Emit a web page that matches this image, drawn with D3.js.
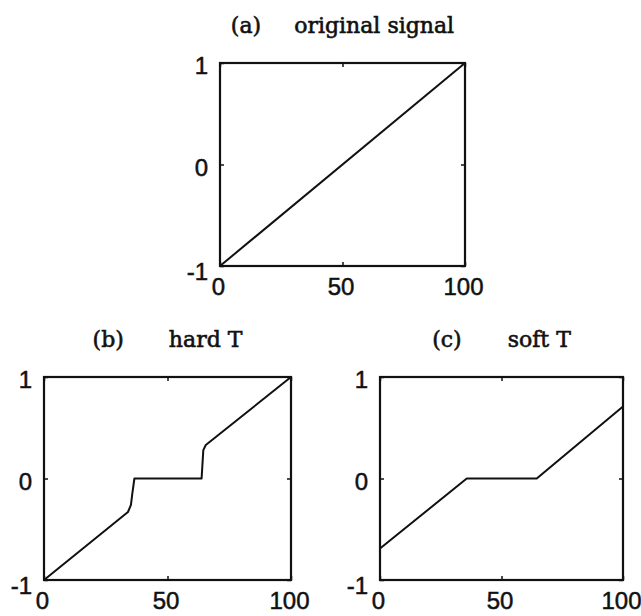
<!DOCTYPE html>
<html>
<head>
<meta charset="utf-8">
<script src="https://cdn.jsdelivr.net/npm/d3@7"></script>
<style>
  html, body { margin: 0; padding: 0; background: #fff; }
  svg { display: block; }
</style>
</head>
<body>
<svg id="chart" width="641" height="616"></svg>
<script>
// Thresholding demo: an input ramp and its hard / soft thresholded versions.
const panelTags = ["(a)", "(b)", "(c)"];
const panelNames = ["original signal", "hard T", "soft T"];
const xTicks = [0, 50, 100];
const yTicks = [-1, 0, 1];
const yTickLabels = ["-1", "0", "1"];

// Breakpoints of each piecewise-linear curve: sample index and amplitude.
const originalX = [0, 100];
const originalY = [-1, 1];
const hardX = [0, 34, 35.2, 35.7, 36.6, 63.8, 64.1, 64.5, 65.5, 100];
const hardY = [-1, -0.33, -0.26, -0.16, 0, 0, 0.12, 0.28, 0.33, 1];
const softX = [0, 35.7, 64.5, 100];
const softY = [-0.69, 0, 0, 0.71];

const curves = [
  { xs: originalX, ys: originalY },
  { xs: hardX, ys: hardY },
  { xs: softX, ys: softY }
];

// Plot boxes: one on top, two side by side below.
const boxes = [
  { left: 220, right: 465, top: 63, bottom: 266, gap: 33 },
  { left: 44, right: 291, top: 377, bottom: 580, gap: 45 },
  { left: 380, right: 623, top: 377, bottom: 580, gap: 46 }
];

const svg = d3.select("#chart");
const ink = "#111";
const tickFont = "'Liberation Sans', Arial, sans-serif";
const titleFont = "'DejaVu Serif', serif";

boxes.forEach((b, i) => {
  const x = d3.scaleLinear().domain([0, 100]).range([b.left, b.right]);
  const y = d3.scaleLinear().domain([-1, 1]).range([b.bottom, b.top]);
  const g = svg.append("g");

  // frame
  g.append("rect")
    .attr("x", b.left).attr("y", b.top)
    .attr("width", b.right - b.left).attr("height", b.bottom - b.top)
    .attr("fill", "none").attr("stroke", ink).attr("stroke-width", 2.2);

  const styleAxis = sel => {
    sel.select(".domain").remove();
    sel.selectAll(".tick line").attr("stroke", ink).attr("stroke-width", 1.5);
    sel.selectAll(".tick text")
      .attr("fill", ink)
      .attr("stroke", ink)
      .attr("stroke-width", 0.5)
      .style("font-family", tickFont)
      .style("font-size", "24px");
  };

  // labelled axes (bottom, left) with inward ticks
  g.append("g").attr("transform", `translate(0,${b.bottom})`)
    .call(d3.axisBottom(x).tickValues(xTicks).tickSizeInner(-4).tickSizeOuter(0).tickPadding(12))
    .call(styleAxis)
    .call(s => s.selectAll(".tick text").attr("dx", -2));

  g.append("g").attr("transform", `translate(${b.left},0)`)
    .call(d3.axisLeft(y).tickValues(yTicks).tickSizeInner(-4).tickSizeOuter(0).tickPadding(12)
      .tickFormat((d, k) => yTickLabels[k]))
    .call(styleAxis)
    .call(s => s.selectAll(".tick text").attr("dy", (d) => d === -1 ? "0.55em" : "0.45em"));

  // unlabelled mirror ticks (top, right)
  g.append("g").attr("transform", `translate(0,${b.top})`)
    .call(d3.axisTop(x).tickValues(xTicks).tickSizeInner(-4).tickSizeOuter(0).tickFormat(""))
    .call(styleAxis);
  g.append("g").attr("transform", `translate(${b.right},0)`)
    .call(d3.axisRight(y).tickValues(yTicks).tickSizeInner(-4).tickSizeOuter(0).tickFormat(""))
    .call(styleAxis);

  // signal curve
  const c = curves[i];
  const pts = c.xs.map((v, k) => [v, c.ys[k]]);
  g.append("path")
    .datum(pts)
    .attr("fill", "none")
    .attr("stroke", ink)
    .attr("stroke-width", 2)
    .attr("stroke-linejoin", "round")
    .attr("d", d3.line().x(d => x(d[0])).y(d => y(d[1])));

  // title: tag and name, centred over the box
  const ty = b.top - 30;
  const tag = g.append("text").text(panelTags[i])
    .attr("y", ty).attr("fill", ink).attr("stroke", ink).attr("stroke-width", 0.6)
    .style("font-family", titleFont).style("font-size", "22px");
  const name = g.append("text").text(panelNames[i])
    .attr("y", ty).attr("fill", ink).attr("stroke", ink).attr("stroke-width", 0.6)
    .style("font-family", titleFont).style("font-size", "22px");
  const tw = tag.node().getComputedTextLength();
  const nw = name.node().getComputedTextLength();
  const start = (b.left + b.right) / 2 - (tw + b.gap + nw) / 2;
  tag.attr("x", start);
  name.attr("x", start + tw + b.gap);
});
</script>
</body>
</html>
